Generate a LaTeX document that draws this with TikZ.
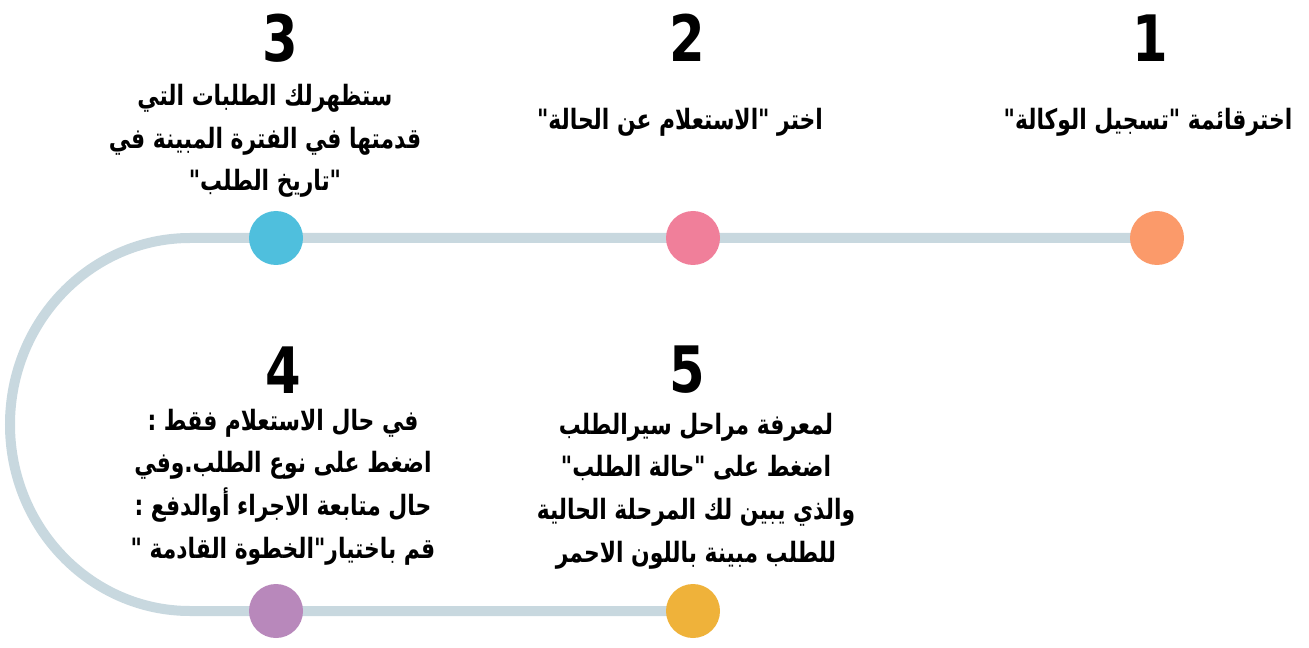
\documentclass[tikz,border=0pt]{standalone}
\usepackage{fontspec}
\usepackage{xcolor}
\newfontfamily\arabicfont[Script=Arabic, FakeStretch=0.78]{DejaVu Sans}
\newfontfamily\numfont[FakeStretch=0.8]{DejaVu Sans}
\TeXXeTstate=1
\usetikzlibrary{
    positioning,
    backgrounds
}
\definecolor{trackgray}{HTML}{C8D8DF}
\definecolor{dotorange}{HTML}{FB9A6A}
\definecolor{dotpink}{HTML}{F07F9A}
\definecolor{dotblue}{HTML}{4FBFDD}
\definecolor{dotpurple}{HTML}{B888BB}
\definecolor{dotyellow}{HTML}{EFB23A}

\begin{document}
\begin{tikzpicture}[
        x=0.75pt, y=0.75pt,
        dot/.style={circle, minimum size=40.5pt, inner sep=0pt},
        num/.style={font=\numfont\bfseries\fontsize{48}{48}\selectfont},
        desc/.style={font=\arabicfont\bfseries\fontsize{21}{32}\selectfont, align=center},
        track/.style={draw=trackgray, line width=7.5pt}
      ]
      \useasboundingbox (0,0) rectangle (1309,647);

      \node[dot, fill=dotorange] (d1) at (1157,409) {};
      \node[dot, fill=dotpink] (d2) at (693,409) {};
      \node[dot, fill=dotblue] (d3) at (276,409) {};
      \node[dot, fill=dotpurple] (d4) at (276,36) {};
      \node[dot, fill=dotyellow] (d5) at (693,36) {};
      \coordinate (bend) at (190,409);

      \begin{scope}[on background layer]
        \draw[track] (d1.center) -- (d2.center) -- (d3.center) -- (bend)
          arc[start angle=90, end angle=270, x radius=180, y radius=186.5]
          -- (d4.center) -- (d5.center);
      \end{scope}

      \node[num] (n1) at (1150,609) {1};
      \node[num] (n2) at (687,609) {2};
      \node[num] (n3) at (280,609) {3};
      \node[num] (n4) at (283,277) {4};
      \node[num] (n5) at (687,277) {5};

      \node[desc] (t1) at (1148,525) {\beginR اخترقائمة "تسجيل الوكالة"\endR};
      \node[desc] (t2) at (680,525) {\beginR اختر "الاستعلام عن الحالة"\endR};
      \node[desc] (t3) at (265,506) {\beginR ستظهرلك الطلبات التي\endR\\
        \beginR قدمتها في الفترة المبينة في\endR\\
        \beginR "تاريخ الطلب"\endR};
      \node[desc] (t4) at (283,160) {\beginR في حال الاستعلام فقط :\endR\\
        \beginR اضغط على نوع الطلب.وفي\endR\\
        \beginR حال متابعة الاجراء أوالدفع :\endR\\
        \beginR قم باختيار"الخطوة القادمة "\endR};
      \node[desc] (t5) at (696,156) {\beginR لمعرفة مراحل سيرالطلب\endR\\
        \beginR اضغط على "حالة الطلب"\endR\\
        \beginR والذي يبين لك المرحلة الحالية\endR\\
        \beginR للطلب مبينة باللون الاحمر\endR};
    \end{tikzpicture}
\end{document}
